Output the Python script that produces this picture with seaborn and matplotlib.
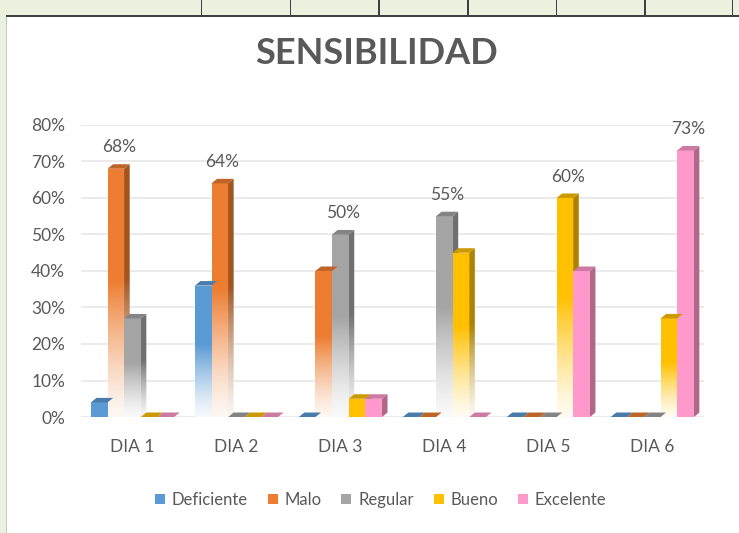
import numpy as np
import pandas as pd
import matplotlib
matplotlib.use('Agg')
import matplotlib.pyplot as plt
import seaborn as sns
from matplotlib.patches import Polygon, Patch, Rectangle
from matplotlib.colors import to_rgb

# Datos (proporciones)
dias = ['DIA 1', 'DIA 2', 'DIA 3', 'DIA 4', 'DIA 5', 'DIA 6']
niveles = ['Deficiente', 'Malo', 'Regular', 'Bueno', 'Excelente']
deficiente = [0.04, 0.36, 0.0, 0.0, 0.0, 0.0]
malo = [0.68, 0.64, 0.40, 0.0, 0.0, 0.0]
regular = [0.27, 0.0, 0.50, 0.55, 0.0, 0.0]
bueno = [0.0, 0.0, 0.05, 0.45, 0.60, 0.27]
excelente = [0.0, 0.0, 0.05, 0.0, 0.40, 0.73]
yticks = [0, 0.1, 0.2, 0.3, 0.4, 0.5, 0.6, 0.7, 0.8]

colores = ['#5b9bd5', '#ed7d31', '#a5a5a5', '#ffc000', '#ff99cc']
con_degradado = [True, True, True, True, False]
gris_texto = '#595959'

series = [deficiente, malo, regular, bueno, excelente]
df = pd.DataFrame({
    'dia': [d for _ in niveles for d in dias],
    'nivel': [n for n in niveles for _ in dias],
    'valor': [v for s in series for v in s],
})

sns.set_style('white')
plt.rcParams['font.family'] = ['Lato', 'DejaVu Sans']

fig = plt.figure(figsize=(7.39, 5.33), dpi=100)
fig.patch.set_facecolor('white')
ax = fig.add_axes([0.109, 0.2176, 0.844, 0.548])

sns.barplot(data=df, x='dia', y='valor', hue='nivel', hue_order=niveles,
            palette=colores, width=0.8, saturation=1, legend=False, ax=ax,
            errorbar=None)

ax.set_xlim(-0.5, 5.5)
ax.set_ylim(0, 0.8)
ax.set_yticks(yticks)
ax.set_yticklabels([f'{int(round(t * 100))}%' for t in yticks])
ax.set_xlabel('')
ax.set_ylabel('')
ax.grid(axis='y', color='#e8e8e8', linewidth=1.2)
ax.set_axisbelow(True)
for s in ax.spines.values():
    s.set_visible(False)
ax.tick_params(axis='both', length=0, labelsize=12.5, labelcolor=gris_texto)
ax.tick_params(axis='x', pad=16)
ax.tick_params(axis='y', pad=11)

# desplazamiento del efecto 3D en unidades de datos
fig.canvas.draw()
bb = ax.get_window_extent()
dx = 5.5 * 6.0 / bb.width
dy = 4.5 * 0.8 / bb.height


def oscurecer(c, f):
    return tuple(np.array(to_rgb(c)) * f)


def degradado(color, gradiente):
    t = np.linspace(0, 1, 200)[:, None]
    c = np.array(to_rgb(color))
    if gradiente:
        a = np.clip(t / 0.55, 0, 1) ** 1.3
        a = 0.06 + 0.94 * a
    else:
        a = np.ones_like(t)
    img = (1 - a)[..., None] * np.ones(3) + a[..., None] * c
    return img


for i, cont in enumerate(ax.containers):
    color = colores[i]
    for j, bar in enumerate(cont):
        x = bar.get_x()
        w = bar.get_width()
        h = bar.get_height()
        grad = con_degradado[i] and h > 0.1
        bar.set_facecolor('none')
        bar.set_edgecolor('none')
        if h > 0:
            im = ax.imshow(degradado(color, grad), extent=[x, x + w, 0, h],
                           origin='lower', aspect='auto', zorder=3,
                           interpolation='bilinear')
            im.set_clip_path(bar)
            lado = Polygon([(x + w, 0), (x + w + dx, dy), (x + w + dx, h + dy), (x + w, h)],
                           closed=True, facecolor='none', edgecolor='none', zorder=3)
            ax.add_patch(lado)
            im2 = ax.imshow(degradado(oscurecer(color, 0.68), grad),
                            extent=[x + w, x + w + dx, 0, h + dy],
                            origin='lower', aspect='auto', zorder=3,
                            interpolation='bilinear')
            im2.set_clip_path(lado)
        tapa = Polygon([(x, h), (x + dx, h + dy), (x + w + dx, h + dy), (x + w, h)],
                       closed=True, facecolor=oscurecer(color, 0.8), edgecolor='none', zorder=4)
        ax.add_patch(tapa)

ax.set_xlim(-0.5, 5.5)
ax.set_ylim(0, 0.8)

# etiqueta solo para el valor maximo de cada dia
for j in range(len(dias)):
    valores = [s[j] for s in series]
    k = int(np.argmax(valores))
    bar = ax.containers[k][j]
    ax.text(bar.get_x() + bar.get_width() / 2 + dx / 2, valores[k] + dy + 0.024,
            f'{int(round(valores[k] * 100))}%', ha='center', va='bottom',
            fontsize=12.5, color=gris_texto, zorder=5)

fig.suptitle('SENSIBILIDAD', x=0.51, y=0.93, fontsize=26, fontweight='bold',
             color=gris_texto)

handles = [Patch(facecolor=c, edgecolor='none') for c in colores]
fig.legend(handles, niveles, loc='center', bbox_to_anchor=(0.515, 0.062), ncol=5,
           frameon=False, fontsize=12, handlelength=0.6, handleheight=0.6,
           handletextpad=0.4, columnspacing=1.2, labelcolor=gris_texto)

# bordes de la hoja de calculo
fig.add_artist(Rectangle((0, 0), 0.008, 1, transform=fig.transFigure,
                         facecolor='#ebf1de', edgecolor='none'))
fig.add_artist(Rectangle((0.008, 0), 0.0015, 0.97, transform=fig.transFigure,
                         facecolor='#c8c8c8', edgecolor='none'))
fig.add_artist(Rectangle((0, 0.97), 1, 0.03, transform=fig.transFigure,
                         facecolor='#ebf1de', edgecolor='none'))
fig.add_artist(Rectangle((0.008, 0.968), 0.992, 0.004, transform=fig.transFigure,
                         facecolor='#404040', edgecolor='none'))
for xc in [0.272, 0.392, 0.512, 0.632, 0.752, 0.872, 0.99]:
    fig.add_artist(Rectangle((xc, 0.97), 0.002, 0.03, transform=fig.transFigure,
                             facecolor='#404040', edgecolor='none'))

fig.savefig('out.png', dpi=100)
